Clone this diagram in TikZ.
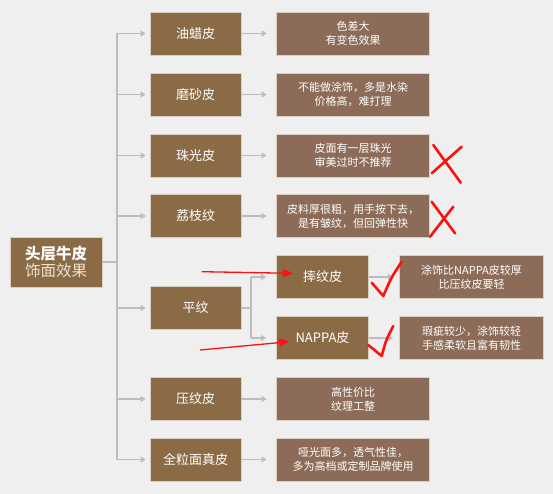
\documentclass[tikz,border=0pt]{standalone}
\usepackage{fontspec}
\setmainfont{Noto Sans CJK SC}
\usetikzlibrary{arrows.meta}
\definecolor{bg}{HTML}{EFEFEF}
\definecolor{boxA}{HTML}{8B6B46}
\definecolor{boxB}{HTML}{8C6C58}
\definecolor{edgec}{HTML}{D9D0C2}
\definecolor{connc}{HTML}{BDBDBD}
\definecolor{markc}{HTML}{FF1010}
\definecolor{soft}{HTML}{EDE3D3}
\begin{document}
\begin{tikzpicture}[x=1pt,y=-1pt,
  basebox/.style={draw=edgec, line width=0.8pt, text=white, inner sep=0pt, align=center},
  lvl/.style={basebox, fill=boxA, minimum width=91pt, minimum height=43pt, font=\fontsize{13}{15}\selectfont},
  desc/.style={basebox, fill=boxB, minimum width=153pt, minimum height=43pt, font=\fontsize{11}{14}\selectfont},
  subdesc/.style={desc, minimum width=144pt},
  conn/.style={draw=connc, line width=1.1pt},
  arr/.style={conn, -{Triangle[length=5pt,width=6pt]}},
  redmark/.style={draw=markc, line width=2.6pt, line cap=round, line join=round},
  redarrow/.style={draw=markc, line width=1.3pt, -{Triangle[length=10pt,width=8pt]}}]
\path[fill=bg] (0,0) rectangle (553,494);

% root
\node[basebox, fill=boxA, minimum width=92pt, minimum height=50pt] (root) at (56,262)
  {\fontsize{15.5}{19}\selectfont\bfseries 头层牛皮\\[2pt]\fontsize{15.5}{19}\selectfont\color{soft}饰面效果};

% level 1
\node[lvl] (youla) at (195.5,33.5) {油蜡皮};
\node[lvl] (mosha) at (195.5,94.5) {磨砂皮};
\node[lvl] (zhuguang) at (195.5,155.5) {珠光皮};
\node[lvl] (lizhi) at (195.5,216) {荔枝纹};
\node[lvl] (pingwen) at (195.5,308) {平纹};
\node[lvl] (yawen) at (195.5,399) {压纹皮};
\node[lvl] (quanli) at (195.5,459.5) {全粒面真皮};

% descriptions
\node[desc] (d1) at (353,33.5) {色差大\\有变色效果};
\node[desc] (d2) at (353,94.5) {不能做涂饰，多是水染\\价格高，难打理};
\node[desc] (d3) at (353,155.5) {皮面有一层珠光\\审美过时不推荐};
\node[desc] (d4) at (353,216) {皮料厚很粗，用手按下去，\\是有皱纹，但回弹性快};
\node[desc] (d6) at (353,399) {高性价比\\纹理工整};
\node[desc] (d7) at (353,459.5) {哑光面多，透气性佳，\\多为高档或定制品牌使用};

% sub boxes
\node[lvl, minimum width=92pt] (shuai) at (322.5,277) {摔纹皮};
\node[lvl, minimum width=92pt] (nappa) at (322.5,338) {NAPPA皮};
\node[subdesc] (ds) at (471.5,277) {涂饰比NAPPA皮较厚\\比压纹皮要轻};
\node[subdesc] (dn) at (471.5,338) {瑕疵较少，涂饰较轻\\手感柔软且富有韧性};

% connectors
\draw[conn] (root.east) -- (117,262) coordinate (tr);
\draw[conn] (tr |- youla.west) -- (tr |- quanli.west);
\foreach \b in {youla,mosha,zhuguang,lizhi,pingwen,yawen,quanli}
  \draw[arr, shorten >=4pt] (tr |- \b.west) -- (\b.west);
\draw[arr, shorten >=9.5pt] (youla.east) -- (d1.west);
\draw[arr, shorten >=9.5pt] (mosha.east) -- (d2.west);
\draw[arr, shorten >=9.5pt] (zhuguang.east) -- (d3.west);
\draw[arr, shorten >=9.5pt] (lizhi.east) -- (d4.west);
\draw[arr, shorten >=9.5pt] (yawen.east) -- (d6.west);
\draw[arr, shorten >=9.5pt] (quanli.east) -- (d7.west);
\draw[conn] (pingwen.east) -- (251,308) coordinate (br);
\draw[conn] (br |- shuai.west) -- (br |- nappa.west);
\draw[arr, shorten >=10pt] (br |- shuai.west) -- (shuai.west);
\draw[arr, shorten >=10pt] (br |- nappa.west) -- (nappa.west);
\draw[arr, shorten >=6pt] (shuai.east) -- (ds.west);
\draw[arr, shorten >=6pt] (nappa.east) -- (dn.west);

% red annotations
\draw[redmark] (431.7,173.3) -- (461.7,146.7);
\draw[redmark] (433.3,145) -- (460.7,182.7);
\draw[redmark] (431.7,201.7) -- (455,233.3);
\draw[redmark] (430,236.7) -- (453.3,206.7);
\draw[redmark] (371.7,282.7) .. controls (377,289) .. (383.3,296) .. controls (391,278) .. (401.7,261.7);
\draw[redmark] (368.3,345) .. controls (375,350) .. (381.7,356) .. controls (386,340) .. (393.3,326);
\draw[redarrow] (201.7,271.7) -- (293,273.3);
\draw[redarrow] (200,350) -- (289.3,341.7);
\end{tikzpicture}
\end{document}
